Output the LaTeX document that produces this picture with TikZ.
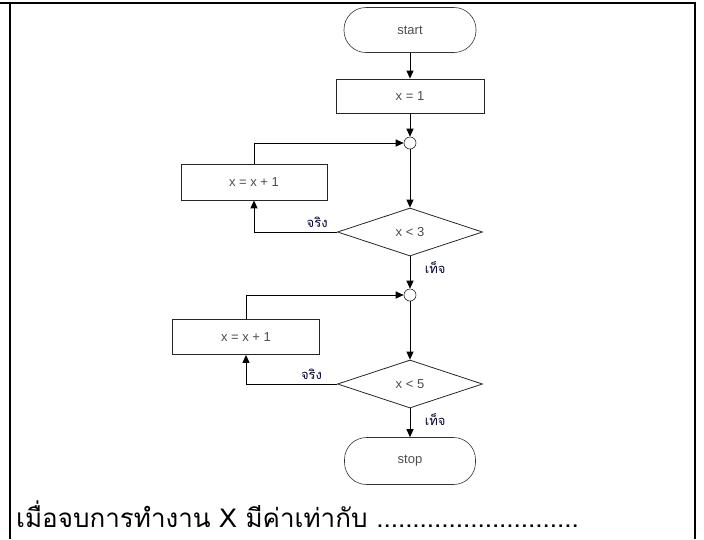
\documentclass[tikz,border=0pt]{standalone}
\usepackage{fontspec}
\usepackage{tikz}
\usetikzlibrary{shapes.geometric,arrows.meta}
\setmainfont{Liberation Sans}
\newfontfamily\thaifont[Script=Thai]{Loma}

\begin{document}
\begin{tikzpicture}[x=1pt,y=-1pt,
  every node/.style={font=\fontsize{13}{15}\selectfont, text=black!70},
  term/.style={draw=black!80, line width=0.6pt, rounded corners=22pt, minimum width=132pt, minimum height=45pt},
  proc/.style={draw=black!85, line width=0.8pt, minimum width=147pt, minimum height=35pt},
  cond/.style={diamond, draw=black!85, line width=0.8pt, inner sep=0pt, minimum width=145pt, minimum height=48pt},
  junction/.style={circle, draw=black!85, line width=0.6pt, inner sep=0pt, minimum size=12pt},
  flow/.style={line width=1pt, -{Triangle[length=8pt,width=7pt]}},
  yesno/.style={font=\thaifont\fontsize{13}{15}\selectfont, text=black!80!blue}]
\useasboundingbox (0,0) rectangle (704,539);
\draw[line width=2.2pt] (0,3)--(695,3)--(695,539);
\draw[line width=2.2pt] (10,3)--(10,539);
\node[term] (start) at (410,30) {start};
\node[proc, minimum width=148pt, minimum height=34pt] (init) at (410,96) {x = 1};
\node[junction] (j1) at (410,143) {};
\node[proc, minimum width=146pt, minimum height=36pt] (inc1) at (254,182) {x = x + 1};
\node[cond] (d1) at (410,232) {x < 3};
\node[junction] (j2) at (410,295) {};
\node[proc] (inc2) at (246,337) {x = x + 1};
\node[cond] (d2) at (410,384) {x < 5};
\node[term, minimum width=131pt, minimum height=47pt] (stop) at (410,461) {stop};
\draw[flow] (start)--(init);
\draw[flow] (init)--(j1);
\draw[flow] (inc1.north) |- (j1.west);
\draw[flow] (j1)--(d1);
\draw[flow] (d1.west) -| node[yesno, pos=0.12, above=1pt]{จริง} (inc1.south);
\draw[flow] (d1)-- node[yesno, pos=0.35, right=11pt]{เท็จ} (j2);
\draw[flow] (inc2.north) |- (j2.west);
\draw[flow] (j2)--(d2);
\draw[flow] (d2.west) -| node[yesno, pos=0.14, above=1pt]{จริง} (inc2.south);
\draw[flow] (d2)-- node[yesno, pos=0.37, right=11pt]{เท็จ} (stop);
\node[anchor=base west, inner sep=0pt, text=black, font=\thaifont\fontsize{26}{30}\selectfont] (question) at (16,527) {เมื่อจบการทำงาน X มีค่าเท่ากับ ............................};
\end{tikzpicture}
\end{document}
